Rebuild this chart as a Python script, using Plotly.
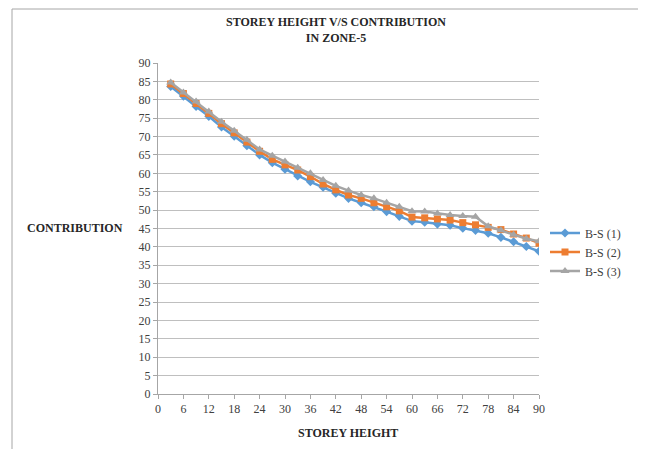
import plotly.graph_objects as go

storey_height = [3, 6, 9, 12, 15, 18, 21, 24, 27, 30, 33, 36, 39, 42, 45,
                 48, 51, 54, 57, 60, 63, 66, 69, 72, 75, 78, 81, 84, 87, 90]
bs1 = [83.6, 81.0, 78.2, 75.5, 72.6, 70.1, 67.5, 65.0, 62.9, 61.1, 59.3, 57.7, 56.2, 54.6, 53.2,
       52.0, 50.9, 49.6, 48.3, 47.0, 46.7, 46.2, 45.9, 45.1, 44.5, 43.7, 42.6, 41.4, 40.1, 38.8]
bs2 = [84.3, 81.7, 79.0, 76.3, 73.5, 71.0, 68.5, 66.0, 63.8, 62.3, 60.9, 59.1, 57.1, 55.5, 54.1,
       53.2, 52.0, 50.9, 49.8, 48.1, 47.9, 47.6, 47.3, 46.6, 46.0, 45.3, 44.7, 43.5, 42.4, 41.0]
bs3 = [84.7, 82.0, 79.5, 76.8, 74.0, 71.6, 69.1, 66.5, 64.8, 63.2, 61.5, 60.0, 58.2, 56.6, 55.3,
       54.1, 53.2, 52.0, 50.9, 49.7, 49.6, 49.1, 48.7, 48.4, 48.2, 45.6, 44.5, 43.3, 42.2, 41.5]
series_names = ["B-S (1)", "B-S (2)", "B-S (3)"]
x_ticks = list(range(0, 91, 6))
y_ticks = list(range(0, 91, 5))

FONT = "Liberation Serif, Times New Roman, serif"
OFF = 8  # page body margin offset
W, H = 646 - OFF, 449 - OFF
L, R, T, B = 158 - OFF, 539 - OFF, 63 - OFF, 394 - OFF

fig = go.Figure()
styles = [
    ("#5B9BD5", "diamond", 7),
    ("#ED7D31", "square", 7),
    ("#A5A5A5", "triangle-up", 8),
]
for name, ys, (col, sym, sz) in zip(series_names, [bs1, bs2, bs3], styles):
    fig.add_trace(go.Scatter(
        x=storey_height, y=ys, name=name, mode="lines+markers",
        line=dict(color=col, width=2.5),
        marker=dict(symbol=sym, size=sz, color=col),
    ))

def px_x(p):
    return (p - OFF - L) / (R - L)

def px_y(p):
    return (B - (p - OFF)) / (B - T)

fig.update_layout(
    width=W, height=H,
    margin=dict(l=L, r=W - R, t=T, b=H - B),
    paper_bgcolor="white", plot_bgcolor="white",
    font=dict(family=FONT, size=12, color="#404040"),
    showlegend=True,
    legend=dict(x=px_x(545), y=px_y(252), xanchor="left", yanchor="middle",
                font=dict(family=FONT, size=12, color="#404040"),
                bgcolor="rgba(0,0,0,0)", tracegroupgap=2, itemwidth=30),
    xaxis=dict(range=[0, 90], tickvals=x_ticks, showgrid=False, zeroline=False,
               showline=True, linecolor="#A6A6A6", linewidth=1,
               ticks="outside", ticklen=4, tickcolor="#A6A6A6",
               tickfont=dict(family=FONT, size=12, color="#404040")),
    yaxis=dict(range=[0, 90], tickvals=y_ticks, showgrid=True, gridcolor="#BFBFBF",
               gridwidth=1, zeroline=False,
               showline=True, linecolor="#A6A6A6", linewidth=1,
               ticks="outside", ticklen=4, tickcolor="#A6A6A6",
               tickfont=dict(family=FONT, size=12, color="#404040")),
    annotations=[
        dict(text="<b>STOREY HEIGHT V/S CONTRIBUTION<br>IN ZONE-5</b>",
             xref="paper", yref="paper", x=px_x(336), y=px_y(30),
             xanchor="center", yanchor="middle", showarrow=False,
             font=dict(family=FONT, size=12, color="#262626")),
        dict(text="<b>CONTRIBUTION</b>", xref="paper", yref="paper",
             x=px_x(125), y=px_y(228), xanchor="right", yanchor="middle",
             showarrow=False, font=dict(family=FONT, size=12, color="#262626")),
        dict(text="<b>STOREY HEIGHT</b>", xref="paper", yref="paper",
             x=px_x(348), y=px_y(433), xanchor="center", yanchor="middle",
             showarrow=False, font=dict(family=FONT, size=12, color="#262626")),
    ],
    shapes=[
        dict(type="rect", xref="paper", yref="paper",
             x0=px_x(12), x1=px_x(641), y0=px_y(470), y1=px_y(9),
             line=dict(color="#A6A6A6", width=1), fillcolor="rgba(0,0,0,0)",
             layer="below"),
    ],
)

fig.write_html("out.html")
